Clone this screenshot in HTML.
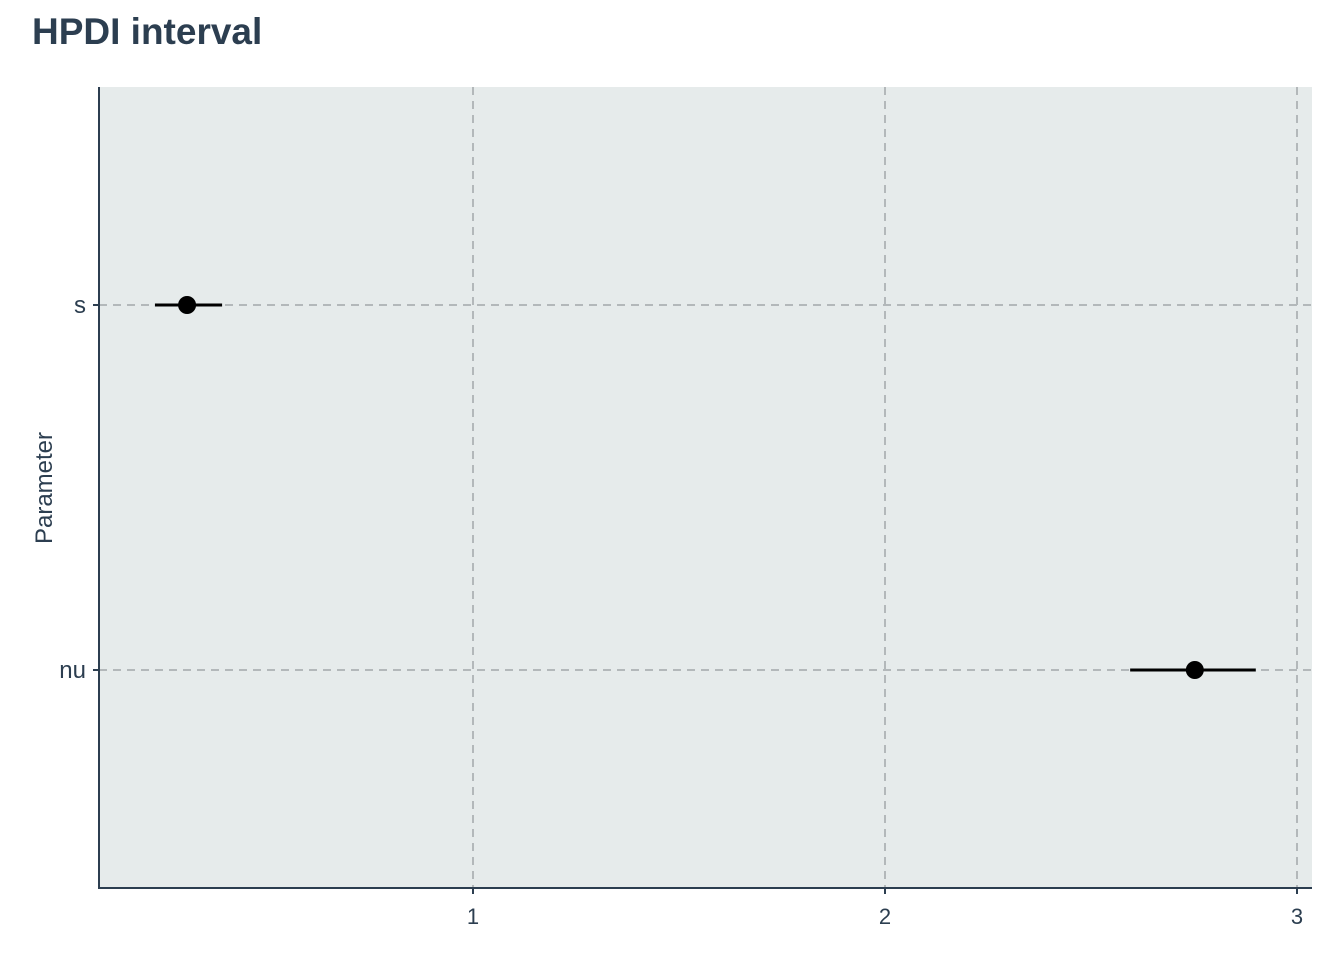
<!DOCTYPE html>
<html><head><meta charset="utf-8"><style>
html,body{margin:0;padding:0;background:#fff;}
svg{display:block;font-family:"Liberation Sans",Arial,sans-serif;}
</style></head><body>
<svg width="1344" height="960" viewBox="0 0 1344 960">
<text x="32" y="44" font-size="37" font-weight="bold" fill="#2c3e50">HPDI interval</text>
<rect x="99" y="87" width="1213" height="801" fill="#e6ebeb"/>
<g id="grid"></g>
<g id="marks"></g>
<line x1="99" y1="87" x2="99" y2="889" stroke="#2c3e50" stroke-width="2"/>
<line x1="98" y1="888" x2="1312" y2="888" stroke="#2c3e50" stroke-width="2"/>
<g id="axes"></g>
<text transform="translate(52,488) rotate(-90)" text-anchor="middle" font-size="24" fill="#2c3e50">Parameter</text>
</svg>
<script>
const categories = ["s", "nu"];
const lowerValues = [0.228, 2.595];
const pointValues = [0.306, 2.752];
const upperValues = [0.391, 2.900];
const xTicks = [1, 2, 3];
const xTickLabels = ["1", "2", "3"];

const NS = "http://www.w3.org/2000/svg";
function xScale(v){ return 61 + v * 412; }
function yScale(i){ return 305 + i * 365; }
function mk(tag, attrs, parent){
  const e = document.createElementNS(NS, tag);
  for (const k in attrs) e.setAttribute(k, attrs[k]);
  document.getElementById(parent).appendChild(e);
  return e;
}
xTicks.forEach((t, i) => {
  const x = xScale(t);
  const g = mk("line", {x1:x, y1:87, x2:x, y2:888, stroke:"#b3b8ba", "stroke-width":2, "stroke-dasharray":"8,6"}, "grid");
  
  
  const tk = mk("line", {x1:x, y1:889, x2:x, y2:894, stroke:"#2c3e50", "stroke-width":2}, "axes");
  
  
  const lb = mk("text", {x:x, y:924, "text-anchor":"middle", "font-size":22, fill:"#2c3e50"}, "axes");
  lb.textContent = xTickLabels[i];
  
  
});
categories.forEach((c, i) => {
  const y = yScale(i);
  const g = mk("line", {x1:99, y1:y, x2:1312, y2:y, stroke:"#b3b8ba", "stroke-width":2, "stroke-dasharray":"8,6"}, "grid");
  
  
  const tk = mk("line", {x1:93, y1:y, x2:99, y2:y, stroke:"#2c3e50", "stroke-width":2}, "axes");
  
  
  const lb = mk("text", {x:86, y:y+8, "text-anchor":"end", "font-size":24, fill:"#2c3e50"}, "axes");
  lb.textContent = c;
  
  
  const ln = mk("line", {x1:xScale(lowerValues[i]), y1:y, x2:xScale(upperValues[i]), y2:y, stroke:"#000", "stroke-width":3}, "marks");
  
  
  const pt = mk("circle", {cx:xScale(pointValues[i]), cy:y, r:9, fill:"#000"}, "marks");
  
  
});
</script>
</body></html>
